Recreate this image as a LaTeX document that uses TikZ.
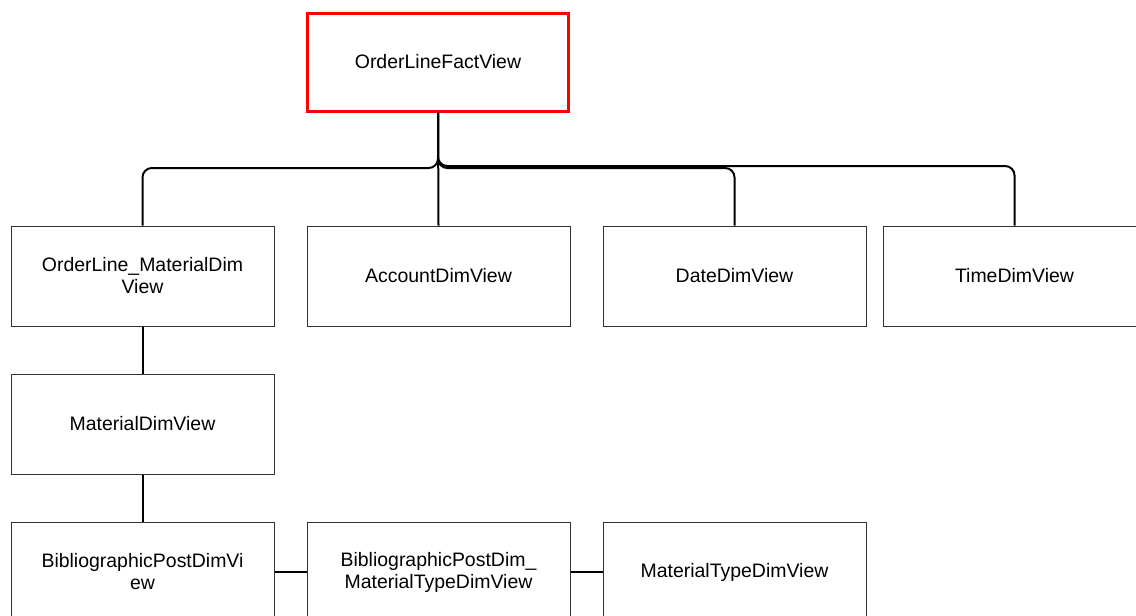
\documentclass[tikz,border=0pt]{standalone}
\usepackage{fontspec}
\setmainfont{Liberation Sans}
\begin{document}
\begin{tikzpicture}[x=0.75pt,y=-0.75pt,
  box/.style={draw=black!80,line width=0.75pt,fill=white,minimum width=197.25pt,minimum height=75pt,
    align=center,inner sep=0pt,font=\fontsize{14.6}{16.5}\selectfont},
  fact/.style={box,draw=red,line width=2.25pt,minimum width=196pt,minimum height=73.5pt},
  conn/.style={line width=1.5pt,rounded corners=7pt}]
\useasboundingbox (0,0) rectangle (1136,615);
\clip (0,0) rectangle (1136,615);
\node[fact] (top) at (438,62) {OrderLineFactView};
\node[box] (b1) at (142.5,276) {OrderLine\_MaterialDim\\View};
\node[box] (b2) at (438.5,276) {AccountDimView};
\node[box] (b3) at (734.5,276) {DateDimView};
\node[box] (b4) at (1014.5,276) {TimeDimView};
\node[box] (mat) at (142.5,424) {MaterialDimView};
\node[box] (bib) at (142.5,572) {BibliographicPostDimVi\\ew};
\node[box] (bm) at (438.5,572) {BibliographicPostDim\_\\MaterialTypeDimView};
\node[box] (mt) at (734.5,572) {MaterialTypeDimView};
\coordinate (m1) at (0,168);
\coordinate (m2) at (0,166);
\draw[conn] (top.south) -- (top.south |- m1) -| (b1.north);
\draw[conn] (top.south) -- (b2.north);
\draw[conn] (top.south) -- (top.south |- m1) -| (b3.north);
\draw[conn] (top.south) -- (top.south |- m2) -| (b4.north);
\draw[line width=1.5pt] (b1.south) -- (mat.north);
\draw[line width=1.5pt] (mat.south) -- (bib.north);
\draw[line width=1.5pt] (bib.east) -- (bm.west);
\draw[line width=1.5pt] (bm.east) -- (mt.west);
\end{tikzpicture}
\end{document}
